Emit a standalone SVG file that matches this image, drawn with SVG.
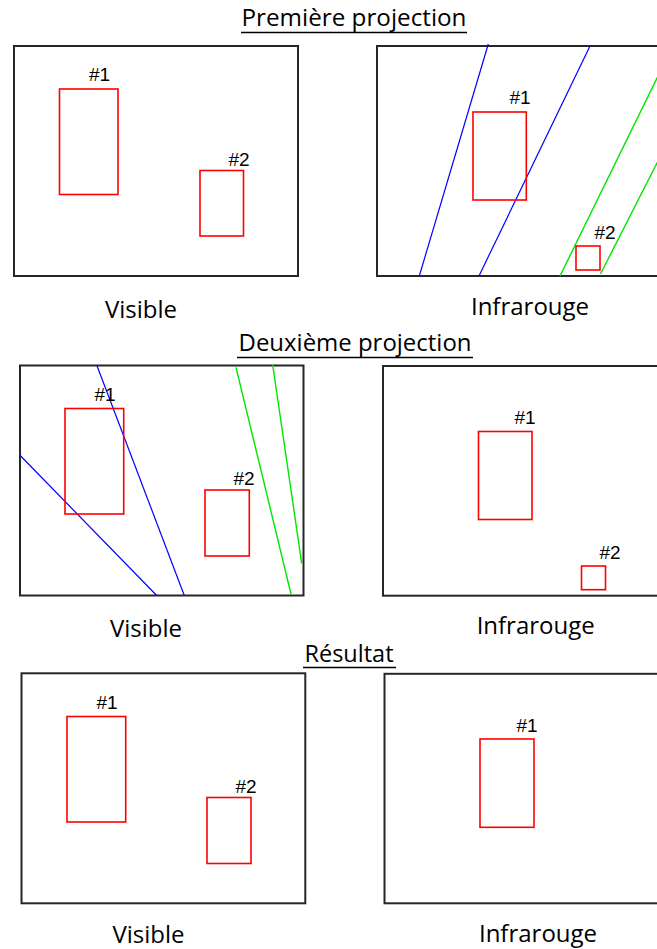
<svg xmlns="http://www.w3.org/2000/svg" width="657" height="949" viewBox="0 0 657 949">
<style>
.frame{fill:none;stroke:#262626;stroke-width:2}
.obj{fill:none;stroke:#ff0000;stroke-width:1.6}
.blue{stroke:#0000ff;stroke-width:1.2;fill:none}
.green{stroke:#00e600;stroke-width:1.4;fill:none}
.lbl{font-family:"Liberation Sans",Arial,sans-serif;font-size:19px;fill:#000}
.cap{font-family:"Open Sans","Noto Sans",sans-serif;font-size:24px;fill:#000;text-anchor:middle}
.title{font-family:"Open Sans","Noto Sans",sans-serif;font-size:24px;fill:#000;text-anchor:middle}
.ul{stroke:#000;stroke-width:1.5}
</style>
<rect width="657" height="949" fill="#fff"/>

<g id="title1">
<text class="title" x="354" y="26" textLength="225" lengthAdjust="spacingAndGlyphs">Première projection</text>
<line class="ul" x1="241" y1="32.5" x2="467" y2="32.5"/>
</g>

<g id="p1-visible">
<rect class="frame" x="14" y="46" width="284" height="230"/>
<rect class="obj" x="59.5" y="89" width="58.5" height="105.5"/>
<text class="lbl" x="89" y="81">#1</text>
<rect class="obj" x="200" y="170.5" width="43.5" height="65.5"/>
<text class="lbl" x="228.5" y="166">#2</text>
<text class="cap" x="141" y="318">Visible</text>
</g>

<g id="p1-infrared">
<rect class="frame" x="377" y="46" width="300" height="230"/>
<line class="blue" x1="488.3" y1="44" x2="419.3" y2="276"/>
<line class="blue" x1="590" y1="46" x2="479" y2="276"/>
<line class="green" x1="658" y1="76" x2="560" y2="276"/>
<line class="green" x1="658" y1="161" x2="600.5" y2="274"/>
<rect class="obj" x="473" y="112" width="53.3" height="88"/>
<text class="lbl" x="509.5" y="104">#1</text>
<rect class="obj" x="576" y="246" width="24" height="24"/>
<text class="lbl" x="594.5" y="239">#2</text>
<text class="cap" x="530" y="315">Infrarouge</text>
</g>

<g id="title2">
<text class="title" x="355" y="351" textLength="233" lengthAdjust="spacingAndGlyphs">Deuxième projection</text>
<line class="ul" x1="237" y1="357.5" x2="473" y2="357.5"/>
</g>

<g id="p2-visible">
<rect class="frame" x="20" y="365.5" width="283.5" height="230"/>
<line class="blue" x1="96.7" y1="365" x2="184.3" y2="595.5"/>
<line class="blue" x1="20.7" y1="456" x2="156.7" y2="595.5"/>
<line class="green" x1="236" y1="367.3" x2="291" y2="594"/>
<line class="green" x1="272.7" y1="365" x2="301.7" y2="563.3"/>
<rect class="obj" x="65" y="408.5" width="58.7" height="105.5"/>
<text class="lbl" x="94.5" y="401">#1</text>
<rect class="obj" x="205" y="490" width="44.3" height="66"/>
<text class="lbl" x="233.5" y="485">#2</text>
<text class="cap" x="146" y="637">Visible</text>
</g>

<g id="p2-infrared">
<rect class="frame" x="383" y="366" width="300" height="229.7"/>
<rect class="obj" x="478.5" y="431.5" width="53.5" height="88"/>
<text class="lbl" x="514.5" y="424">#1</text>
<rect class="obj" x="581.5" y="566" width="24" height="23.7"/>
<text class="lbl" x="599.5" y="559">#2</text>
<text class="cap" x="535.7" y="634">Infrarouge</text>
</g>

<g id="title3">
<text class="title" x="349" y="662" textLength="89" lengthAdjust="spacingAndGlyphs">Résultat</text>
<line class="ul" x1="303" y1="667.5" x2="396" y2="667.5"/>
</g>

<g id="p3-visible">
<rect class="frame" x="21.5" y="673.3" width="283.8" height="230"/>
<rect class="obj" x="67" y="716.5" width="58.7" height="105.5"/>
<text class="lbl" x="96.5" y="709">#1</text>
<rect class="obj" x="207" y="797.5" width="44" height="66"/>
<text class="lbl" x="235.5" y="793">#2</text>
<text class="cap" x="148.5" y="943">Visible</text>
</g>

<g id="p3-infrared">
<rect class="frame" x="384.5" y="673.8" width="300" height="229.5"/>
<rect class="obj" x="480" y="739" width="54" height="88.3"/>
<text class="lbl" x="516.5" y="731.7">#1</text>
<text class="cap" x="538" y="942">Infrarouge</text>
</g>
</svg>
